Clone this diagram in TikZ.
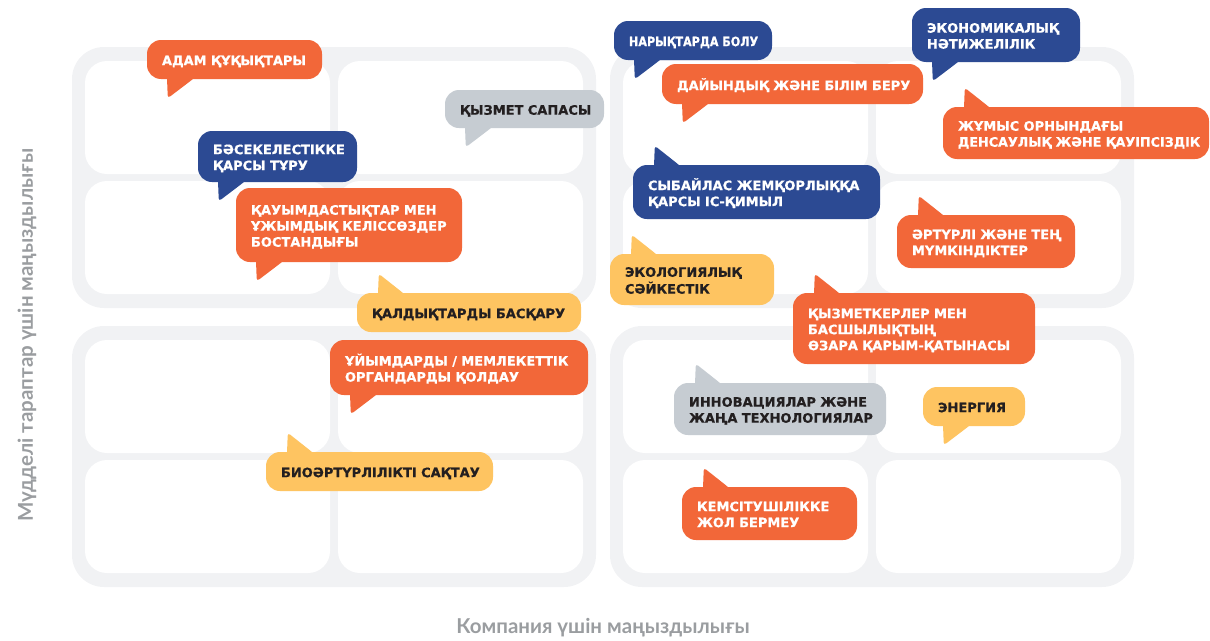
\documentclass[tikz,border=0pt]{standalone}
\usepackage{fontspec}
\usepackage{graphicx}
\usetikzlibrary{calc}
\newfontfamily\bubfont{DejaVu Sans}[BoldFeatures={FakeBold=0.6}]
\newfontfamily\axfont{Lato}
\definecolor{borange}{HTML}{F26739}
\definecolor{bnavy}{HTML}{2C4A93}
\definecolor{byellow}{HTML}{FEC461}
\definecolor{bgray}{HTML}{C6CCD2}
\definecolor{darktext}{HTML}{231F20}
\definecolor{framegray}{HTML}{F1F2F4}
\definecolor{axisgray}{HTML}{9A9DA0}
\tikzset{
  bubble/.style={rectangle, rounded corners=14pt, inner xsep=15pt, inner ysep=0pt, align=left,
    font=\bubfont\bfseries\fontsize{13}{16}\selectfont},
  framebox/.style={fill=framegray, rounded corners=32pt},
  cellbox/.style={fill=white, rounded corners=22pt},
  axislabel/.style={font=\axfont\bfseries\fontsize{20.5}{22}\selectfont, text=axisgray, inner sep=0pt}
}
\newcommand\taildown[2]{\fill[#2, rounded corners=3pt] ($(#1.south west)+(20,-6)$) -- ($(#1.south west)+(21,19)$) -- ($(#1.south west)+(46,0)$) -- ($(#1.south west)+(52,-6)$) -- cycle;}
\newcommand\tailup[2]{\fill[#2, rounded corners=3pt] ($(#1.north west)+(21,6)$) -- ($(#1.north west)+(22,-19)$) -- ($(#1.north west)+(46,0)$) -- ($(#1.north west)+(52,6)$) -- cycle;}
\newcommand\bubble[9]{%
  \pgfmathsetmacro\bw{#4-#2}\pgfmathsetmacro\bh{#5-#3}\pgfmathsetmacro\tw{#4-#2-30}%
  \node[bubble, fill=#6, text=#7, minimum width=\bw pt, minimum height=\bh pt, text width=\tw pt] (#1) at ({(#2+#4)/2},{(#3+#5)/2}) {\raisebox{-2.5pt}[\height][\depth]{\begin{tabular}{@{}l@{}}#9\end{tabular}}};
  #8{#1}{#6}%
}
\newcommand\quadrant[2]{% x0, y0 of outer frame
  \fill[framebox] (#1,#2) rectangle ++(524,261);
  \fill[cellbox] (#1+13,#2+14) rectangle ++(245,113);
  \fill[cellbox] (#1+266,#2+14) rectangle ++(245,113);
  \fill[cellbox] (#1+13,#2+134) rectangle ++(245,113);
  \fill[cellbox] (#1+266,#2+134) rectangle ++(245,113);
}
\begin{document}
\begin{tikzpicture}[x=1pt,y=-1pt]
\useasboundingbox (0,0) rectangle (1210,640);
\quadrant{72}{47}
\quadrant{610}{47}
\quadrant{72}{326}
\quadrant{610}{326}

\node[axislabel, rotate=90] (ylab) at (27,335) {Мүдделі тараптар үшін маңыздылығы};
\node[axislabel] (xlab) at (603,628) {Компания үшін маңыздылығы};

\bubble{adam}{147}{40}{322}{79}{borange}{white}{\taildown}{АДАМ ҚҰҚЫҚТАРЫ}
\bubble{sapa}{445}{90}{604}{128}{bgray}{darktext}{\taildown}{ҚЫЗМЕТ САПАСЫ}
\bubble{bas}{198}{131}{357}{182}{bnavy}{white}{\taildown}{БӘСЕКЕЛЕСТІККЕ\\ҚАРСЫ ТҰРУ}
\bubble{qauym}{236}{188}{462}{262}{borange}{white}{\taildown}{ҚАУЫМДАСТЫҚТАР МЕН\\ҰЖЫМДЫҚ КЕЛІССӨЗДЕР\\БОСТАНДЫҒЫ}
\bubble{kaldyq}{357}{293}{581}{332}{byellow}{darktext}{\tailup}{ҚАЛДЫҚТАРДЫ БАСҚАРУ}
\bubble{uiym}{330}{340}{588}{395}{borange}{white}{\taildown}{ҰЙЫМДАРДЫ / МЕМЛЕКЕТТІК\\ОРГАНДАРДЫ ҚОЛДАУ}
\bubble{bio}{266}{452}{493}{491}{byellow}{darktext}{\tailup}{БИОӘРТҮРЛІЛІКТІ САҚТАУ}
\bubble{naryq}{614}{21}{772}{60}{bnavy}{white}{\taildown}{\scalebox{0.86}[1]{НАРЫҚТАРДА БОЛУ}}
\bubble{ekon}{912}{8}{1080}{62}{bnavy}{white}{\taildown}{ЭКОНОМИКАЛЫҚ\\НӘТИЖЕЛІЛІК}
\bubble{dayyn}{662}{64}{923}{104}{borange}{white}{\taildown}{ДАЙЫНДЫҚ ЖӘНЕ БІЛІМ БЕРУ}
\bubble{zhumys}{943}{107}{1209}{159}{borange}{white}{\tailup}{ЖҰМЫС ОРНЫНДАҒЫ\\\scalebox{0.98}[1]{ДЕНСАУЛЫҚ ЖӘНЕ ҚАУІПСІЗДІК}}
\bubble{sybai}{633}{165}{880}{219}{bnavy}{white}{\tailup}{СЫБАЙЛАС ЖЕМҚОРЛЫҚҚА\\ҚАРСЫ ІС-ҚИМЫЛ}
\bubble{arturli}{897}{215}{1075}{268}{borange}{white}{\tailup}{ӘРТҮРЛІ ЖӘНЕ ТЕҢ\\МҮМКІНДІКТЕР}
\bubble{ekolog}{610}{254}{774}{305}{byellow}{darktext}{\tailup}{ЭКОЛОГИЯЛЫҚ\\СӘЙКЕСТІК}
\bubble{qyzmetker}{793}{293}{1035}{364}{borange}{white}{\tailup}{ҚЫЗМЕТКЕРЛЕР МЕН\\БАСШЫЛЫҚТЫҢ\\ӨЗАРА ҚАРЫМ-ҚАТЫНАСЫ}
\bubble{innov}{674}{383}{886}{435}{bgray}{darktext}{\tailup}{ИННОВАЦИЯЛАР ЖӘНЕ\\ЖАҢА ТЕХНОЛОГИЯЛАР}
\bubble{energy}{923}{387}{1025}{426}{byellow}{darktext}{\taildown}{ЭНЕРГИЯ}
\bubble{kemsit}{682}{487}{857}{540}{borange}{white}{\tailup}{КЕМСІТУШІЛІККЕ\\ЖОЛ БЕРМЕУ}
\end{tikzpicture}
\end{document}
